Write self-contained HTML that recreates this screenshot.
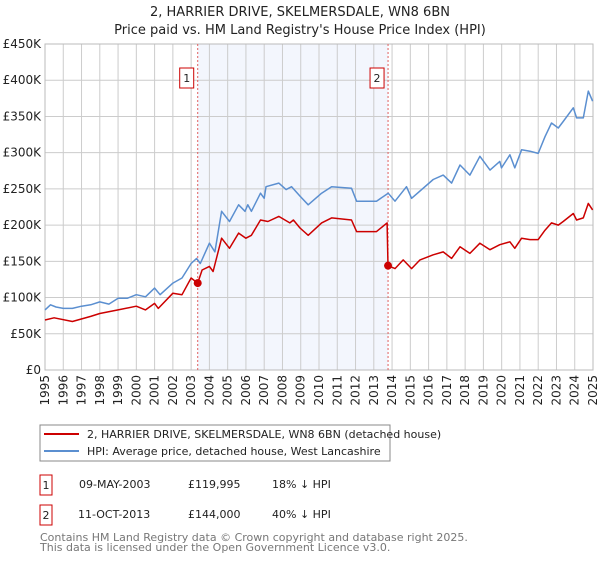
<!DOCTYPE html>
<html><head><meta charset="utf-8"><style>
body{margin:0;background:#fff;font-family:"DejaVu Sans","Liberation Sans",sans-serif;}
svg text{font-family:"DejaVu Sans","Liberation Sans",sans-serif;}
</style></head><body>
<svg id="c" width="600" height="560" xmlns="http://www.w3.org/2000/svg">
<text x="300" y="16" text-anchor="middle" font-size="13" fill="#222">2, HARRIER DRIVE, SKELMERSDALE, WN8 6BN</text>
<text x="300" y="34" text-anchor="middle" font-size="13" fill="#222">Price paid vs. HM Land Registry's House Price Index (HPI)</text>
<g id="plot"></g>
<rect x="40" y="425" width="350" height="36" fill="#fff" stroke="#888"/>
<line x1="44" y1="434" x2="79" y2="434" stroke="#cc0000" stroke-width="2"/>
<text x="87" y="438" font-size="11" fill="#222">2, HARRIER DRIVE, SKELMERSDALE, WN8 6BN (detached house)</text>
<line x1="44" y1="451" x2="79" y2="451" stroke="#5b8fd0" stroke-width="2"/>
<text x="87" y="455" font-size="11" fill="#222">HPI: Average price, detached house, West Lancashire</text>
<g>
<rect x="40" y="475" width="12" height="20" fill="#fff" stroke="#cc0000"/>
<text x="46" y="489" text-anchor="middle" font-size="11" fill="#222">1</text>
<text x="79" y="488" font-size="11" fill="#222">09-MAY-2003</text>
<text x="188" y="488" font-size="11" fill="#222">£119,995</text>
<text x="272" y="488" font-size="11" fill="#222">18% ↓ HPI</text>
</g>
<g>
<rect x="40" y="505" width="12" height="20" fill="#fff" stroke="#cc0000"/>
<text x="46" y="519" text-anchor="middle" font-size="11" fill="#222">2</text>
<text x="78" y="518" font-size="11" fill="#222">11-OCT-2013</text>
<text x="188" y="518" font-size="11" fill="#222">£144,000</text>
<text x="272" y="518" font-size="11" fill="#222">40% ↓ HPI</text>
</g>
<text x="40" y="541" font-size="11" fill="#777">Contains HM Land Registry data © Crown copyright and database right 2025.</text>
<text x="40" y="551" font-size="11" fill="#777">This data is licensed under the Open Government Licence v3.0.</text>
</svg>
<script>
const yTicks=[0,50,100,150,200,250,300,350,400,450];
const yTickLabels=["£0","£50K","£100K","£150K","£200K","£250K","£300K","£350K","£400K","£450K"];
const xYears=[1995,1996,1997,1998,1999,2000,2001,2002,2003,2004,2005,2006,2007,2008,2009,2010,2011,2012,2013,2014,2015,2016,2017,2018,2019,2020,2021,2022,2023,2024,2025];
const hpiDates=[1995.0,1995.3,1995.6,1996.0,1996.5,1997.0,1997.5,1998.0,1998.5,1999.0,1999.5,2000.0,2000.5,2001.0,2001.3,2002.0,2002.5,2003.0,2003.3,2003.5,2004.0,2004.3,2004.67,2005.1,2005.6,2005.95,2006.1,2006.3,2006.8,2007.0,2007.1,2007.8,2008.2,2008.5,2008.96,2009.41,2010.14,2010.69,2011.78,2012.06,2013.15,2013.79,2014.16,2014.79,2015.07,2016.25,2016.8,2017.26,2017.72,2018.26,2018.81,2019.36,2019.9,2019.99,2020.45,2020.72,2021.09,2021.55,2022.0,2022.37,2022.73,2023.1,2023.37,2023.92,2024.1,2024.47,2024.74,2024.98];
const hpiValues=[83,90,87,85,85,88,90,94,91,99,99,104,101,113,104,120,127,147,154,147,175,163,219,205,228,219,228,219,244,237,253,258,249,253,240,228,244,253,251,233,233,244,233,253,237,263,269,258,283,269,295,276,288,279,297,279,304,302,299,322,341,334,343,362,348,348,385,371];
const ppDates=[1995.0,1995.5,1996.5,1997.5,1998.0,1999.0,2000.0,2000.5,2001.0,2001.2,2002.0,2002.5,2003.0,2003.36,2003.6,2004.0,2004.2,2004.67,2005.1,2005.6,2006.0,2006.3,2006.8,2007.2,2007.8,2008.4,2008.6,2008.96,2009.41,2010.14,2010.69,2011.78,2012.06,2013.15,2013.73,2013.78,2014.16,2014.61,2015.07,2015.53,2016.25,2016.8,2017.26,2017.72,2018.26,2018.81,2019.36,2019.9,2020.45,2020.72,2021.09,2021.55,2022.0,2022.37,2022.73,2023.1,2023.37,2023.92,2024.1,2024.47,2024.74,2024.98];
const ppValues=[69,72,67,74,78,83,88,83,92,85,106,104,127,120,138,143,136,182,168,189,182,186,207,205,212,203,207,196,186,203,210,207,191,191,203,144,140,152,140,152,159,163,154,170,161,175,166,173,177,168,182,180,180,193,203,200,205,216,207,210,230,221];
const saleDates=[2003.36,2013.78];
const saleValues=[119.995,144];
const saleLabels=["1","2"];

const L=45,R=593,T=44,B=370;
const x=y=>L+(y-1995)/(2025-1995)*(R-L);
const yv=v=>B-v/450*(B-T);
const NS="http://www.w3.org/2000/svg";
const g=document.getElementById('plot');
function mk(t,a){const e=document.createElementNS(NS,t);for(const k in a)e.setAttribute(k,a[k]);g.appendChild(e);return e;}
let e;
e=mk('rect',{x:x(saleDates[0]),y:T,width:x(saleDates[1])-x(saleDates[0]),height:B-T,fill:'#f3f6fd'});


yTicks.forEach((v,i)=>{
 e=mk('line',{x1:L,x2:R,y1:yv(v),y2:yv(v),stroke:'#ccc'});
 
 
 e=mk('text',{x:L-4,y:yv(v)+4,'text-anchor':'end','font-size':12,fill:'#222'});
 e.textContent=yTickLabels[i];
 
 
});
xYears.forEach(yr=>{
 e=mk('line',{x1:x(yr),x2:x(yr),y1:T,y2:B,stroke:'#ccc'});
 
 
 e=mk('text',{x:0,y:0,'text-anchor':'end','font-size':12,fill:'#222',transform:`translate(${x(yr)+4},${B+5}) rotate(-90)`});
 e.textContent=yr;
 
 
});
e=mk('rect',{x:L,y:T,width:R-L,height:B-T,fill:'none',stroke:'#bbb'});


saleDates.forEach((d,i)=>{
 e=mk('line',{x1:x(d),x2:x(d),y1:T,y2:B,stroke:'#e06060','stroke-dasharray':'2,2'});
 
 
});
function path(ds,vs,col,name){
 const p=ds.map((d,i)=>(i?'L':'M')+x(d).toFixed(1)+','+yv(vs[i]).toFixed(1)).join('');
 const el=mk('path',{d:p,fill:'none',stroke:col,'stroke-width':1.5,'stroke-linejoin':'round'});
 
 
}
path(hpiDates,hpiValues,'#5b8fd0','hpi-line');
path(ppDates,ppValues,'#cc0000','price-paid-line');
saleDates.forEach((d,i)=>{
 e=mk('circle',{cx:x(d),cy:yv(saleValues[i]),r:4,fill:'#cc0000'});
 
 
 e=mk('rect',{x:x(d)-18,y:T+24,width:14,height:20,fill:'#fff',stroke:'#cc0000'});
 
 
 e=mk('text',{x:x(d)-11,y:T+38,'text-anchor':'middle','font-size':11,fill:'#222'});
 e.textContent=saleLabels[i];
 
 
});
</script>
</body></html>
